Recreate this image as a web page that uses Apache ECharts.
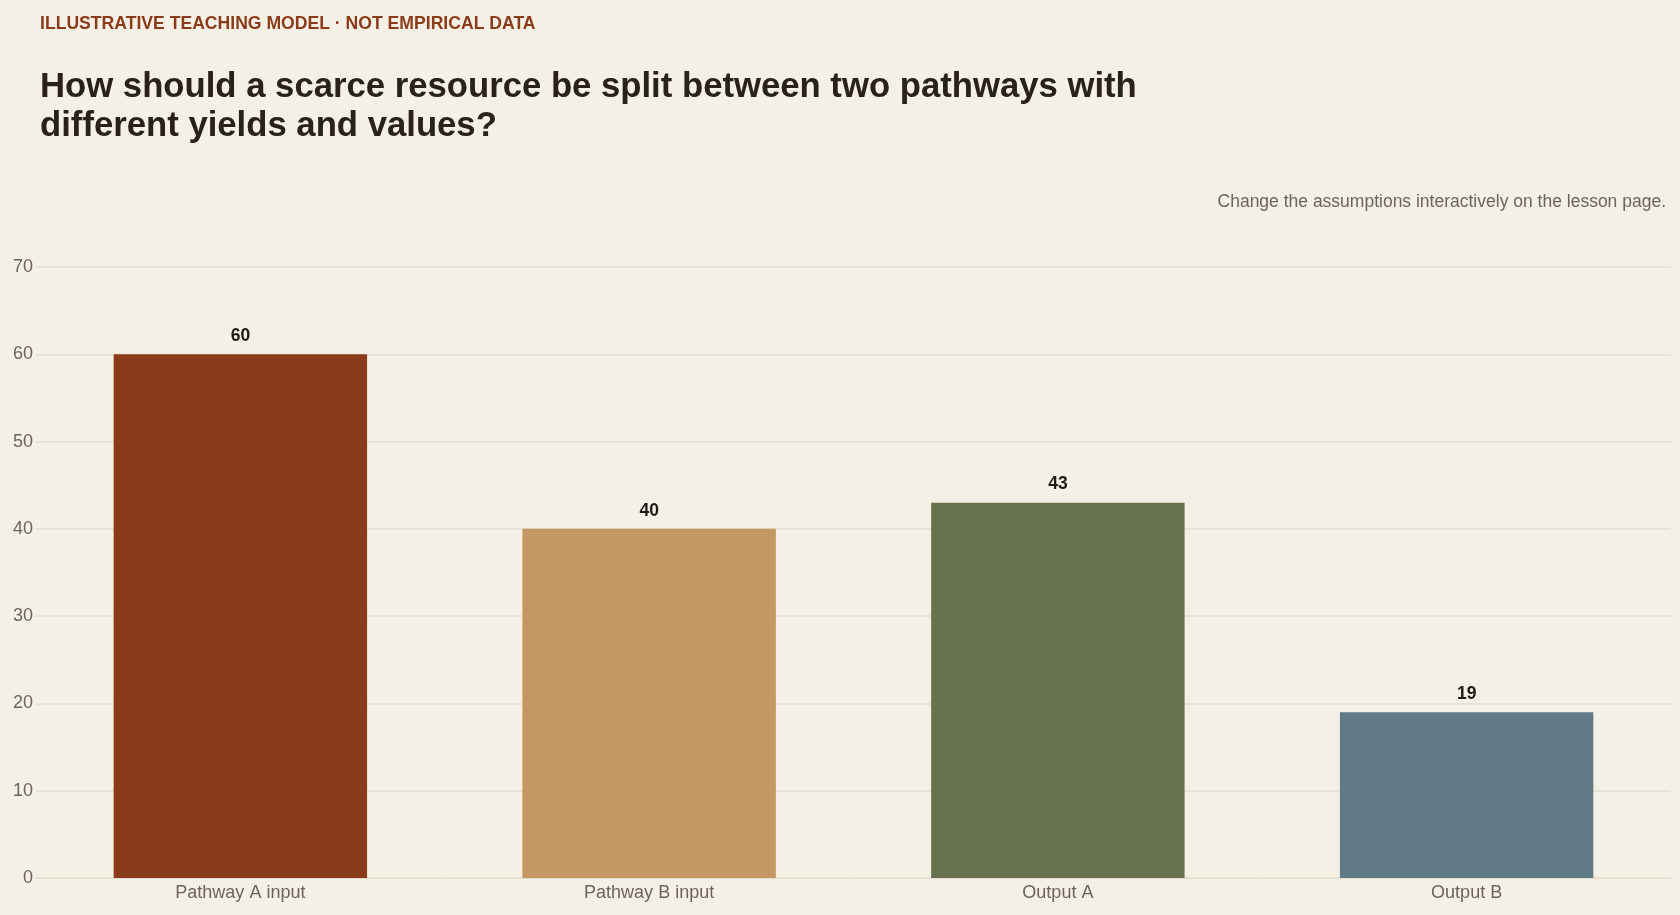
<!DOCTYPE html>
<html>
<head>
<meta charset="utf-8">
<script src="https://cdn.jsdelivr.net/npm/echarts@6/dist/echarts.min.js"></script>
<style>
html,body{margin:0;padding:0;background:#F5F0E5;}
#c{width:1680px;height:915px;}
</style>
</head>
<body>
<div id="c"></div>
<script>
const categories = ['Pathway A input', 'Pathway B input', 'Output A', 'Output B'];
const values = [60, 40, 43, 19];
const barColors = ['#8A3B19', '#C59762', '#67714D', '#607B86'];
const yTicks = [0, 10, 20, 30, 40, 50, 60, 70];

const chart = echarts.init(document.getElementById('c'));
const font = '"Liberation Sans", Arial, Helvetica, sans-serif';
chart.setOption({
  backgroundColor: '#F5F0E5',
  textStyle: { fontFamily: font },
  title: [
    { text: 'ILLUSTRATIVE TEACHING MODEL · NOT EMPIRICAL DATA', left: 40, top: 15, padding: 0,
      textStyle: { fontFamily: font, fontSize: 17.6, fontWeight: 'bold', color: '#8A3B19' } },
    { text: 'How should a scarce resource be split between two pathways with\ndifferent yields and values?', left: 40, top: 68, padding: 0,
      textStyle: { fontFamily: font, fontSize: 34.7, fontWeight: 'bold', color: '#2A2118', lineHeight: 39 } },
    { text: 'Change the assumptions interactively on the lesson page.', right: 14, top: 193, padding: 0,
      textStyle: { fontFamily: font, fontSize: 17.5, fontWeight: 'normal', color: '#6B645B' } }
  ],
  grid: { left: 36, right: 9, top: 267, bottom: 37, containLabel: false, outerBoundsMode: 'none' },
  xAxis: {
    type: 'category',
    data: categories,
    axisLine: { show: true, lineStyle: { color: '#E3DCCF' } },
    axisTick: { show: false },
    axisLabel: { color: '#6B645B', fontSize: 18, margin: 6, fontFamily: font }
  },
  yAxis: {
    type: 'value',
    min: yTicks[0], max: yTicks[yTicks.length - 1], interval: 10,
    axisLine: { show: false },
    axisTick: { show: false },
    axisLabel: { color: '#6B645B', fontSize: 18, margin: 3, fontFamily: font },
    splitLine: { lineStyle: { color: '#E3DCCF', width: 1.5 } }
  },
  series: [{
    type: 'bar',
    data: values.map((v, i) => ({ value: v, itemStyle: { color: barColors[i] } })),
    barCategoryGap: '38%',
    label: { show: true, position: 'top', distance: 9, color: '#1F1A14', fontSize: 17.5, fontWeight: 'bold', fontFamily: font },
    animation: false
  }],
  animation: false
});
</script>
</body>
</html>
